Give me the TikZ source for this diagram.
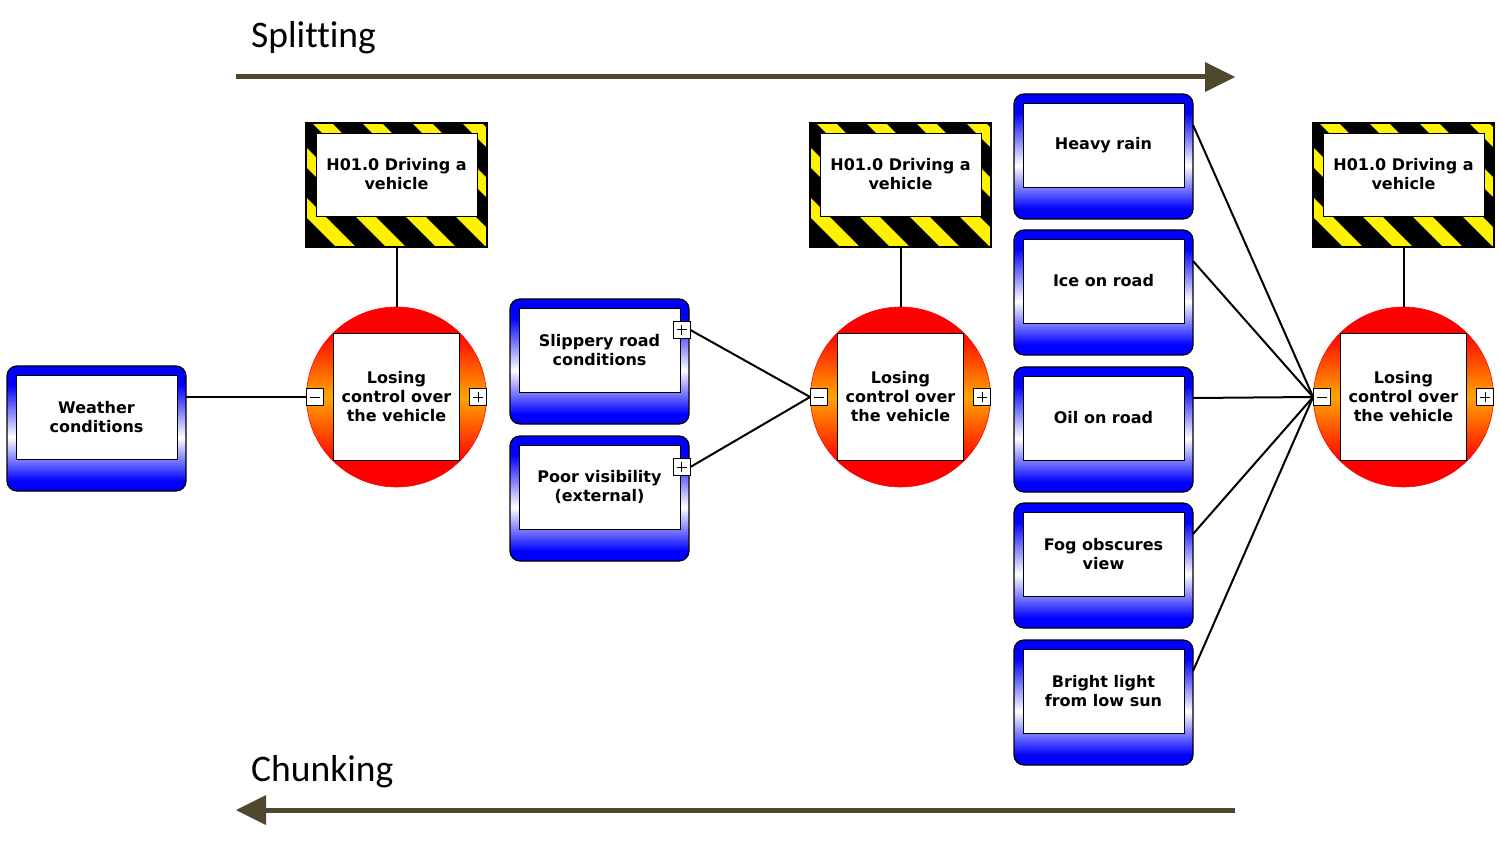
\documentclass[tikz,border=0pt]{standalone}
\usepackage{fontspec}
\setmainfont{DejaVu Sans}
\newfontfamily\titlefont[Ligatures=NoCommon]{Carlito}
\usetikzlibrary{arrows.meta}
\definecolor{arrowcol}{RGB}{79,72,46}
\definecolor{orng}{RGB}{255,165,0}
\pgfdeclareverticalshading{blueshade}{100bp}{color(0bp)=(blue); color(29bp)=(blue); color(46.5bp)=(white); color(67.5bp)=(blue); color(100bp)=(blue)}
\pgfdeclareverticalshading{redball}{100bp}{color(0bp)=(red); color(32bp)=(red); color(50bp)=(orng); color(68bp)=(red); color(100bp)=(red)}
\tikzset{
  lbl/.style={font=\bfseries\fontsize{16}{19}\selectfont, align=center, text=black},
  bbx/.style={draw=black, line width=1.2pt, rounded corners=10pt, shading=blueshade, minimum width=179pt, minimum height=125pt, inner sep=0pt},
  innerbox/.style={draw=black, line width=0.8pt, fill=white, minimum width=161pt, minimum height=84pt, inner sep=0pt, lbl},
  hazard/.style={draw=black, line width=1.5pt, minimum width=181pt, minimum height=124pt, inner sep=0pt, fill=yellow,
    path picture={\foreach \k in {-4,...,5}{\draw[black, line width=21pt] ([xshift=41pt+\k*50pt]path picture bounding box.north west) ++(-80,-80) -- ++(300,300);}}},
  ball/.style={circle, draw=red, line width=0.6pt, shading=redball, minimum size=180pt, inner sep=0pt},
  sqbox/.style={draw=black, line width=0.8pt, fill=white, minimum width=126pt, minimum height=127pt, inner sep=0pt, lbl},
  pmbox/.style={draw=black, line width=0.8pt, fill=white, minimum size=17pt, inner sep=0pt},
  pmminus/.style={path picture={\draw[line width=1pt] ([xshift=3.5pt]path picture bounding box.west) -- ([xshift=-3.5pt]path picture bounding box.east);}},
  pmplus/.style={path picture={\draw[line width=1pt] ([xshift=3.5pt]path picture bounding box.west) -- ([xshift=-3.5pt]path picture bounding box.east) ([yshift=-3.5pt]path picture bounding box.north) -- ([yshift=3.5pt]path picture bounding box.south);}},
  conn/.style={line width=2pt, draw=black},
  bigarrow/.style={line width=5pt, draw=arrowcol, -{Triangle[length=30pt,width=30pt,line width=0pt,fill=arrowcol]}},
  ttl/.style={font=\titlefont\fontsize{37.5}{44}\selectfont, text=black, inner sep=0pt, anchor=base west}
}
\newcommand\bbnode[4]{%
  \node[bbx] (#1) at ({#2+89.5},{#3+62.5}) {};
  \node[innerbox] (#1-in) at ({#2+89.5},{#3+51}) {#4};
  \coordinate (#1-o) at ({#2+179},{#3+31});
}
\newcommand\hznode[3]{%
  \node[hazard] (#1) at ({#2+90.5},{#3+62}) {};
  \node[innerbox, minimum height=83pt] (#1-in) at ({#2+90.5},{#3+51.5}) {H01.0 Driving a\\vehicle};
}
\newcommand\ballnode[3]{%
  \node[ball] (#1) at (#2,#3) {};
  \node[sqbox] (#1-in) at (#2,{#3-0.5}) {Losing\\control over\\the vehicle};
  \node[pmbox, pmminus] (#1-m) at ({#2-81.5},#3) {};
  \node[pmbox, pmplus] (#1-p) at ({#2+81.5},#3) {};
}
\begin{document}
\begin{tikzpicture}[x=1pt,y=-1pt]
\useasboundingbox[fill=white] (0,0) rectangle (1500,842);
% titles and arrows
\node[ttl] (split) at (251,48) {Splitting};
\node[ttl] (chunk) at (251,781) {Chunking};
\coordinate (s0) at (236,77);
\coordinate (s1) at (1235,77);
\coordinate (c0) at (1235,810);
\coordinate (c1) at (236,810);
\draw[bigarrow] (s0) -- (s1);
\draw[bigarrow] (c0) -- (c1);
% hazards
\hznode{h1}{306}{123}
\hznode{h2}{810}{123}
\hznode{h3}{1313}{123}
% top events
\ballnode{b1}{396.5}{397}
\ballnode{b2}{900.5}{397}
\ballnode{b3}{1403.5}{397}
% threats
\bbnode{weather}{7}{366}{Weather\\conditions}
\bbnode{slip}{510}{299}{Slippery road\\conditions}
\bbnode{poor}{510}{436}{Poor visibility\\(external)}
\node[pmbox, pmplus] (slip-p) at (681.5,330) {};
\node[pmbox, pmplus] (poor-p) at (681.5,467) {};
\bbnode{rain}{1014}{94}{Heavy rain}
\bbnode{ice}{1014}{230}{Ice on road}
\bbnode{oil}{1014}{367}{Oil on road}
\bbnode{fog}{1014}{503}{Fog obscures\\view}
\bbnode{sun}{1014}{640}{Bright light\\from low sun}
% connectors
\draw[conn] (h1.south) -- (b1.north);
\draw[conn] (h2.south) -- (b2.north);
\draw[conn] (h3.south) -- (b3.north);
\draw[conn] (weather-o) -- (b1-m.west);
\draw[conn] (slip-p.east) -- (b2-m.west);
\draw[conn] (poor-p.east) -- (b2-m.west);
\foreach \n in {rain,ice,oil,fog,sun}{\draw[conn] (\n-o) -- (b3-m.west);}
\end{tikzpicture}
\end{document}
